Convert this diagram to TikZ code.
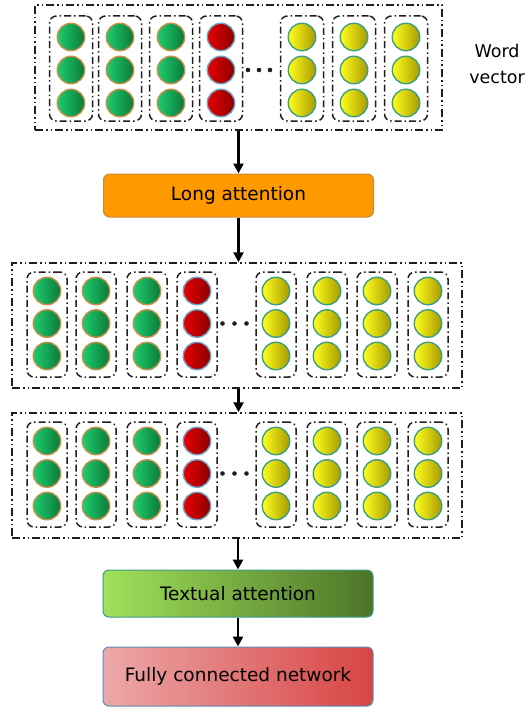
\documentclass[tikz,border=0pt]{standalone}
\usepackage{fontspec}
\setmainfont{DejaVu Sans}
\usetikzlibrary{arrows.meta}

% ball colours: rim, left, right
\definecolor{grim}{HTML}{C8904A}
\definecolor{gl}{HTML}{1ECC6E}
\definecolor{gr}{HTML}{0C7A3A}
\definecolor{rrim}{HTML}{6FA3C8}
\definecolor{rl}{HTML}{E80000}
\definecolor{rr}{HTML}{8A0000}
\definecolor{yrim}{HTML}{3E9E7E}
\definecolor{yl}{HTML}{FFFF1E}
\definecolor{yr}{HTML}{A89A00}
% boxes
\definecolor{longfill}{HTML}{FF9900}
\definecolor{longrim}{HTML}{C98A3A}
\definecolor{txtl}{HTML}{A0E25A}
\definecolor{txtr}{HTML}{4C7428}
\definecolor{txtrim}{HTML}{3F9A8A}
\definecolor{fcl}{HTML}{ECA8A8}
\definecolor{fcr}{HTML}{D84444}
\definecolor{fcrim}{HTML}{5B8DB8}
\definecolor{linegray}{HTML}{1E1E1E}

\begin{document}
\begin{tikzpicture}[x=1pt,y=-1pt,
  outerbox/.style={draw=linegray, line width=1.5pt, inner sep=0pt,
    dash pattern=on 8pt off 3pt on 1.5pt off 3pt on 1.5pt off 3pt},
  colbox/.style={draw=linegray, line width=1.5pt, inner sep=0pt, rounded corners=7pt,
    dash pattern=on 7pt off 3pt on 1.5pt off 3pt},
  ball/.style={circle, minimum size=27.5pt, inner sep=0pt, line width=1.4pt,
    draw=#1rim, left color=#1l, right color=#1r},
  stage/.style={rounded corners=6pt, minimum width=270pt, inner sep=0pt,
    line width=1pt, font=\fontsize{18.5}{22}\selectfont},
  flow/.style={-{Triangle[width=10pt,length=10pt]}, line width=2.6pt, draw=black},
]
\useasboundingbox (0,0) rectangle (528,709);

% ---- word vectors ----
\node[outerbox, minimum width=407pt, minimum height=125pt] (wv) at (238.5,67.5) {};
\foreach \x/\k [count=\i] in {71/g,120/g,171/g,221/r,302/y,354/y,406/y}{
  \node[colbox, minimum width=43pt, minimum height=105pt] (wv-c\i) at (\x,68.5) {};
  \foreach \y [count=\j] in {37,70,103}
    \node[ball=\k] (wv-c\i-\j) at (\x,\y) {};
}
\foreach \x in {248,259,270} \fill[linegray] (\x,70) circle (2.3pt);
\node[align=center, font=\fontsize{17.5}{26}\selectfont] (wvlabel) at (497,64) {Word\\vector};

% ---- long attention ----
\node[stage, fill=longfill, draw=longrim, minimum height=43pt] (long) at (238.5,195.5) {Long attention};

% ---- two encoded layers ----
\foreach \n/\dy in {hA/0,hB/150}{
  \node[outerbox, minimum width=450pt, minimum height=125pt] (\n) at (237,325.5+\dy) {};
  \foreach \x/\k [count=\i] in {47/g,96/g,147/g,197/r,276/y,327/y,377/y,428/y}{
    \node[colbox, minimum width=40pt, minimum height=105pt] (\n-c\i) at (\x,324.5+\dy) {};
    \foreach \y [count=\j] in {291,323.5,356}
      \node[ball=\k] (\n-c\i-\j) at (\x,\y+\dy) {};
  }
  \foreach \x in {222.5,234.5,246.5} \fill[linegray] (\x,323.5+\dy) circle (2.3pt);
}

% ---- heads ----
\node[stage, left color=txtl, right color=txtr, draw=txtrim, minimum height=47pt] (txt) at (238,593.5) {Textual attention};
\node[stage, left color=fcl, right color=fcr, draw=fcrim, minimum height=59pt] (fc) at (238,676.5) {Fully connected network};

% ---- flow arrows ----
\draw[flow] (wv.south -| long.north) -- (long.north);
\draw[flow] (long.south) -- (long.south |- hA.north);
\draw[flow] (hA.south -| long.south) -- (long.south |- hB.north);
\draw[flow] (hB.south -| txt.north) -- (txt.north);
\draw[flow] (txt.south) -- (fc.north);
\end{tikzpicture}
\end{document}
